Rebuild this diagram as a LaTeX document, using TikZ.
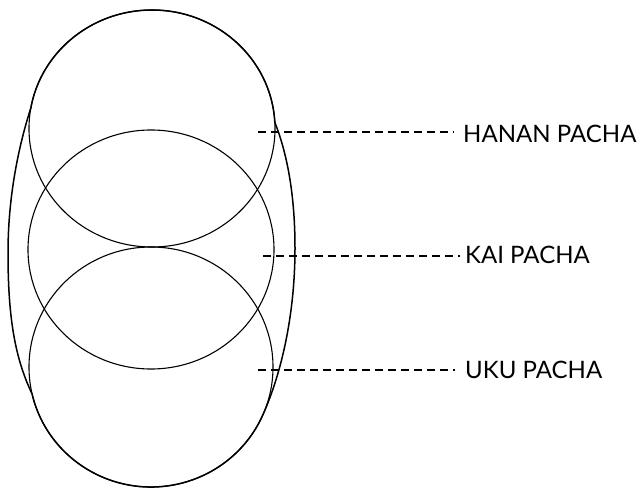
\documentclass[tikz,border=0pt]{standalone}
\usepackage{fontspec}
\setmainfont{Lato}
\begin{document}
\begin{tikzpicture}[x=1pt,y=1pt,
  ring/.style={line width=1.1pt},
  outerline/.style={line width=1.5pt},
  leader/.style={line width=2.3pt, dash pattern=on 8pt off 5pt},
  lab/.style={anchor=base west, inner sep=0pt, font=\fontsize{24}{28}\selectfont}]
\useasboundingbox (0,0) rectangle (639,488);
% three circles
\draw[ring] (152,359.5) ellipse [x radius=123, y radius=118.5];
\draw[ring] (151,238.5) ellipse [x radius=123, y radius=119.5];
\draw[ring] (151,121) ellipse [x radius=122, y radius=120];
% outer oval
\draw[outerline] (274.8,365.7) arc [start angle=3, end angle=170, x radius=123, y radius=118.5]
  .. controls (18,340) and (8,290) .. (8,235)
  .. controls (8,170) and (15,130) .. (32.1,94)
  arc [start angle=193, end angle=335, x radius=122, y radius=120]
  .. controls (280,110) and (295,170) .. (295,240)
  .. controls (295,300) and (285,340) .. (274.8,365.7);
% labels
\node[lab] (hanan) at (463,345) {HANAN PACHA};
\node[lab] (kai) at (465,225) {KAI PACHA};
\node[lab] (uku) at (465,110) {UKU PACHA};
\coordinate (h0) at (258,356);
\coordinate (k0) at (263,232);
\coordinate (u0) at (258,118);
\draw[leader] (h0) -- ([xshift=-9pt]h0 -| hanan.west);
\draw[leader] (k0) -- ([xshift=-5pt]k0 -| kai.west);
\draw[leader] (u0) -- ([xshift=-10pt]u0 -| uku.west);
\end{tikzpicture}
\end{document}
